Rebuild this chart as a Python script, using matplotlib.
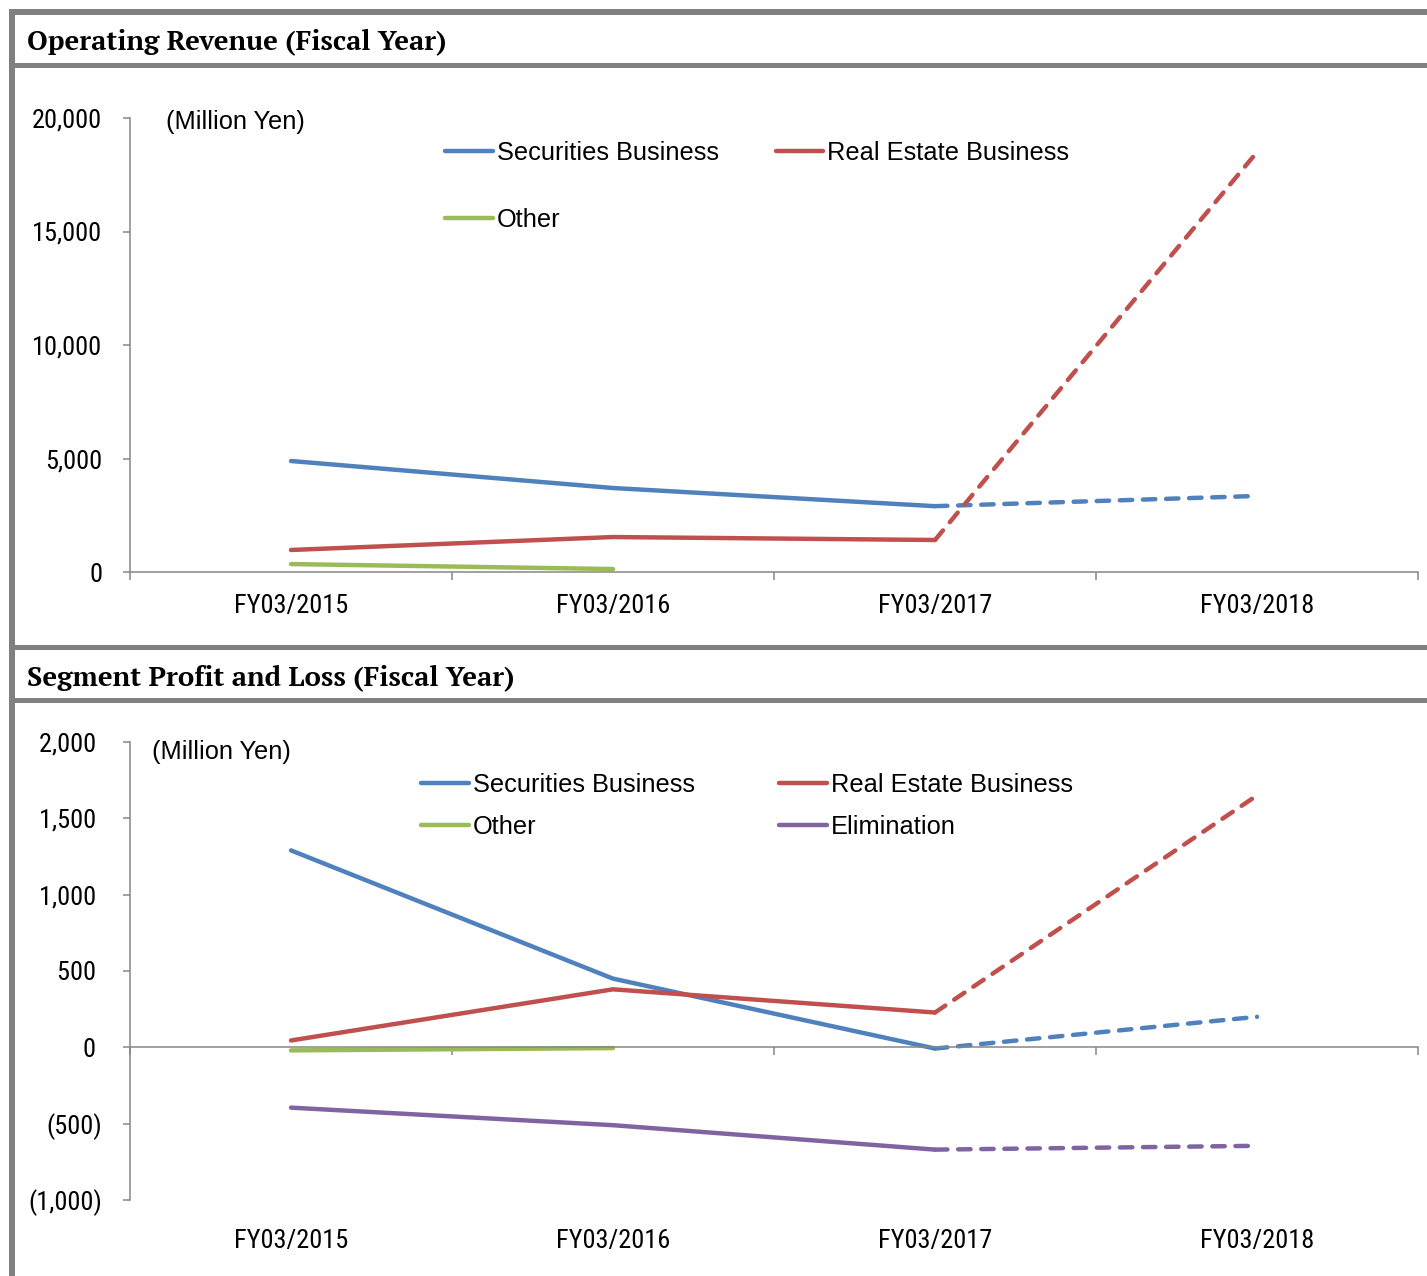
import matplotlib
matplotlib.use("Agg")
import matplotlib.pyplot as plt
from matplotlib.patches import Rectangle
import numpy as np

# data (million yen), last value of each business = forecast FY03/2018
categories = ["FY03/2015", "FY03/2016", "FY03/2017", "FY03/2018"]

rev_securities = [4890, 3700, 2900, 3350]
rev_real_estate = [970, 1540, 1410, 18500]
rev_other = [350, 130, np.nan, np.nan]

pl_securities = [1290, 450, -8, 200]
pl_real_estate = [45, 380, 228, 1650]
pl_other = [-20, -5, np.nan, np.nan]
pl_elimination = [-395, -510, -670, -645]

rev_ticks = [0, 5000, 10000, 15000, 20000]
rev_tick_labels = ["0", "5,000", "10,000", "15,000", "20,000"]
pl_ticks = [-1000, -500, 0, 500, 1000, 1500, 2000]
pl_tick_labels = ["(1,000)", "(500)", "0 ", "500 ", "1,000 ", "1,500 ", "2,000 "]

BLUE = "#4F81BD"
RED = "#C0504D"
GREEN = "#9BBB59"
PURPLE = "#8064A2"
FRAME = "#808080"
AXIS = "#868686"

NARROW = ["Roboto Condensed", "Archivo Narrow", "Liberation Sans", "DejaVu Sans"]
SANS = ["Liberation Sans", "DejaVu Sans"]
SERIF = ["PT Serif", "Liberation Serif", "DejaVu Serif"]

W, H = 1427, 1276
fig = plt.figure(figsize=(W / 100, H / 100), dpi=100)


def band(x0, y0, x1, y1):
    fig.add_artist(Rectangle((x0 / W, 1 - y1 / H), (x1 - x0) / W, (y1 - y0) / H,
                             transform=fig.transFigure, color=FRAME, lw=0))


band(9, 9, W, 15)
band(9, 9, 15, H)
band(15, 63, W, 68)
band(15, 645, W, 650)
band(15, 698, W, 703)

fig.text(27 / W, 1 - 42 / H, "Operating Revenue (Fiscal Year)", family=SERIF,
         weight="bold", fontsize=19.7, va="center", ha="left")
fig.text(27 / W, 1 - 678 / H, "Segment Profit and Loss (Fiscal Year)", family=SERIF,
         weight="bold", fontsize=19.7, va="center", ha="left")

x = np.arange(len(categories))
LW = 3.2
DASH = (2.8, 2.4)


def draw(ax, values, color, label):
    v = np.array(values, dtype=float)
    ax.plot(x[:3], v[:3], color=color, lw=LW, solid_capstyle="round",
            solid_joinstyle="round", label=label, clip_on=False)
    if not np.isnan(v[3]):
        ax.plot(x[2:], v[2:], color=color, lw=LW, dashes=DASH,
                dash_capstyle="round", clip_on=False)


def style(ax, ticks, labels, ymin, ymax, label_pad):
    ax.set_xlim(-0.5, 3.5)
    ax.set_ylim(ymin, ymax)
    for s in ["top", "right"]:
        ax.spines[s].set_visible(False)
    for s in ["left", "bottom"]:
        ax.spines[s].set_color(AXIS)
        ax.spines[s].set_linewidth(1.1)
    ax.spines["bottom"].set_position(("data", 0))
    ax.set_yticks(ticks)
    ax.set_yticklabels(labels, family=NARROW, fontsize=19)
    ax.tick_params(axis="y", direction="out", length=5, width=1.1, color=AXIS, pad=15)
    ax.set_xticks(np.arange(-0.5, 4, 1.0))
    ax.tick_params(axis="x", direction="out", length=6, width=1.1, color=AXIS,
                   labelbottom=False)
    sec = ax.secondary_xaxis("bottom")
    sec.set_xticks(x)
    sec.set_xticklabels(categories, family=NARROW, fontsize=19)
    sec.tick_params(length=0, pad=label_pad)
    sec.spines["bottom"].set_visible(False)


ax1 = fig.add_axes([130 / W, 1 - 572 / H, 1288 / W, 454 / H])
draw(ax1, rev_securities, BLUE, "Securities Business")
draw(ax1, rev_other, GREEN, "Other")
draw(ax1, rev_real_estate, RED, "Real Estate Business")
style(ax1, rev_ticks, rev_tick_labels, 0, 20000, 15.5)
ax1.text(166 / W, 1 - 122 / H, "(Million Yen)", transform=fig.transFigure,
         family=SANS, fontsize=18.3, va="center", ha="left")
ax1.legend(loc="upper left", bbox_to_anchor=(445 / W, 1 - 141 / H),
           bbox_transform=fig.transFigure, ncol=2, frameon=False, borderpad=0,
           borderaxespad=0, handlelength=1.87, handletextpad=0.16,
           columnspacing=2.24, labelspacing=1.68, prop={"family": SANS, "size": 18.3})

ax2 = fig.add_axes([130 / W, 1 - 1200 / H, 1288 / W, 458 / H])
draw(ax2, pl_securities, BLUE, "Securities Business")
draw(ax2, pl_other, GREEN, "Other")
draw(ax2, pl_real_estate, RED, "Real Estate Business")
draw(ax2, pl_elimination, PURPLE, "Elimination")
style(ax2, pl_ticks, pl_tick_labels, -1000, 2000, 21)
ax2.text(152 / W, 1 - 752 / H, "(Million Yen)", transform=fig.transFigure,
         family=SANS, fontsize=18.3, va="center", ha="left")
ax2.legend(loc="upper left", bbox_to_anchor=(421 / W, 1 - 773 / H),
           bbox_transform=fig.transFigure, ncol=2, frameon=False, borderpad=0,
           borderaxespad=0, handlelength=1.87, handletextpad=0.16,
           columnspacing=3.32, labelspacing=0.7, prop={"family": SANS, "size": 18.3})

fig.savefig("out.png", dpi=100)
